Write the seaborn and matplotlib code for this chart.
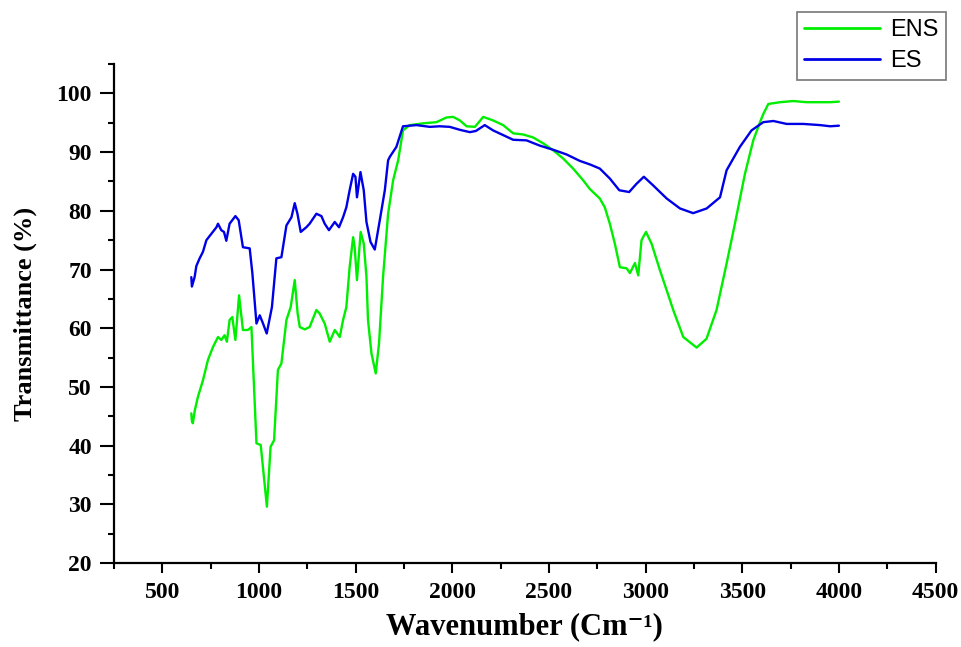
import matplotlib
matplotlib.use("Agg")
import matplotlib.pyplot as plt
from matplotlib.ticker import MultipleLocator
import seaborn as sns
import pandas as pd

# ENS spectrum (green)
ens_x = [650, 653, 658, 668, 684, 710, 736, 762, 788, 805, 822, 834, 848, 862, 878, 897, 917,
         943, 961, 987, 1009, 1041, 1060, 1078, 1098, 1116, 1142, 1164, 1185, 1200, 1211, 1237,
         1262, 1297, 1314, 1340, 1366, 1392, 1418, 1435, 1452, 1469, 1487, 1495, 1507, 1526,
         1542, 1556, 1564, 1582, 1604, 1621, 1642, 1668, 1694, 1720, 1745, 1780, 1849, 1918,
         1970, 2004, 2039, 2074, 2117, 2160, 2211, 2263, 2315, 2367, 2418, 2470, 2522, 2574,
         2625, 2677, 2712, 2763, 2789, 2815, 2841, 2867, 2902, 2919, 2945, 2962, 2979, 3002,
         3031, 3074, 3126, 3143, 3195, 3264, 3315, 3367, 3419, 3462, 3514, 3557, 3592, 3609,
         3635, 3695, 3764, 3833, 3903, 3955, 4000]
ens_y = [45.5, 44.2, 43.8, 46.0, 48.3, 51.1, 54.6, 56.8, 58.5, 58.0, 58.8, 57.7, 61.4, 61.9,
         58.0, 65.6, 59.7, 59.7, 60.2, 40.4, 40.1, 29.6, 39.8, 40.9, 52.9, 54.0, 61.4, 63.6,
         68.2, 62.5, 60.2, 59.8, 60.2, 63.1, 62.5, 60.8, 57.7, 59.7, 58.5, 61.4, 63.6, 70.4,
         75.5, 73.8, 68.2, 76.4, 74.4, 68.8, 61.4, 55.7, 52.3, 57.4, 68.8, 79.5, 85.2, 88.6,
         93.7, 94.6, 94.9, 95.1, 95.9, 96.0, 95.4, 94.4, 94.3, 96.0, 95.4, 94.6, 93.2, 93.0,
         92.5, 91.5, 90.3, 88.9, 87.2, 85.2, 83.7, 82.1, 80.6, 77.8, 74.4, 70.4, 70.2, 69.4,
         71.1, 69.0, 75.0, 76.4, 74.4, 69.9, 64.8, 63.1, 58.5, 56.7, 58.2, 63.1, 71.0, 77.8,
         86.3, 92.0, 95.1, 96.5, 98.2, 98.5, 98.7, 98.5, 98.5, 98.5, 98.6]

# ES spectrum (blue)
es_x = [650, 653, 667, 676, 693, 710, 728, 754, 780, 788, 805, 819, 831, 848, 878, 895, 917,
        952, 966, 987, 1004, 1021, 1040, 1067, 1090, 1116, 1142, 1168, 1185, 1199, 1216, 1245,
        1262, 1297, 1323, 1340, 1362, 1392, 1414, 1435, 1452, 1469, 1487, 1499, 1507, 1525,
        1542, 1556, 1577, 1599, 1625, 1651, 1668, 1677, 1711, 1745, 1815, 1884, 1935, 1987,
        2039, 2091, 2122, 2168, 2211, 2263, 2315, 2384, 2453, 2522, 2591, 2660, 2712, 2763,
        2815, 2864, 2915, 2953, 2991, 3040, 3109, 3178, 3246, 3316, 3385, 3419, 3488, 3548,
        3609, 3661, 3730, 3816, 3903, 3955, 4000]
es_y = [68.7, 67.1, 68.7, 70.6, 71.9, 73.0, 75.0, 76.1, 77.2, 77.8, 76.7, 76.4, 74.9, 77.8,
        79.1, 78.4, 73.8, 73.6, 69.3, 60.8, 62.2, 60.8, 59.1, 63.6, 71.9, 72.1, 77.5, 78.9,
        81.3, 79.5, 76.4, 77.2, 77.8, 79.5, 79.1, 77.8, 76.7, 78.1, 77.2, 78.9, 80.6, 83.5,
        86.3, 85.8, 82.3, 86.6, 83.5, 78.1, 74.7, 73.4, 78.4, 83.5, 88.6, 89.2, 90.9, 94.4,
        94.6, 94.3, 94.4, 94.3, 93.8, 93.4, 93.6, 94.6, 93.7, 92.9, 92.1, 92.0, 91.1, 90.4,
        89.6, 88.5, 87.9, 87.2, 85.5, 83.5, 83.2, 84.6, 85.8, 84.3, 82.1, 80.4, 79.6, 80.4,
        82.3, 86.9, 90.9, 93.7, 95.1, 95.3, 94.8, 94.8, 94.6, 94.4, 94.5]

df = pd.concat([
    pd.DataFrame({"Wavenumber": ens_x, "T": ens_y, "Sample": "ENS"}),
    pd.DataFrame({"Wavenumber": es_x, "T": es_y, "Sample": "ES"}),
], ignore_index=True)

sns.set_theme(style="ticks")
plt.rcParams["font.family"] = ["Liberation Serif", "DejaVu Serif"]
for k in ["text.color", "axes.labelcolor", "xtick.color", "ytick.color", "axes.edgecolor"]:
    plt.rcParams[k] = "black"

fig = plt.figure(figsize=(9.62, 6.47), dpi=100)
ax = fig.add_axes([0.1185, 0.1298, 0.854, 0.7712])

sns.lineplot(data=df, x="Wavenumber", y="T", hue="Sample",
             palette={"ENS": "#00ee00", "ES": "#0000e6"},
             sort=False, estimator=None, linewidth=1.7, ax=ax)

ax.set_xlim(250, 4500)
ax.set_ylim(20, 105)
ax.xaxis.set_major_locator(MultipleLocator(500))
ax.xaxis.set_minor_locator(MultipleLocator(250))
ax.yaxis.set_major_locator(MultipleLocator(10))
ax.yaxis.set_minor_locator(MultipleLocator(5))
ax.set_xticks(list(range(500, 4501, 500)))
ax.set_yticks(list(range(20, 101, 10)))

for s in ["top", "right"]:
    ax.spines[s].set_visible(False)
for s in ["left", "bottom"]:
    ax.spines[s].set_linewidth(1.6)
    ax.spines[s].set_color("black")

ax.tick_params(axis="y", which="major", length=10, width=1.5, direction="out", pad=6)
ax.tick_params(axis="y", which="minor", length=4.5, width=1.5, direction="out")
ax.tick_params(axis="x", which="major", length=7, width=1.5, direction="out", pad=7)
ax.tick_params(axis="x", which="minor", length=4, width=1.5, direction="out")
for lab in ax.get_xticklabels() + ax.get_yticklabels():
    lab.set_fontweight("bold")
    lab.set_fontsize(17)

ax.set_xlabel("Wavenumber (Cm\u207b\u00b9)", fontsize=22, fontweight="bold", labelpad=6)
ax.set_ylabel("Transmittance (%)", fontsize=19, fontweight="bold", labelpad=14)

leg = ax.legend(loc="upper right", bbox_to_anchor=(0.983, 0.9815),
                bbox_transform=fig.transFigure, frameon=True, fancybox=False,
                prop={"family": "Liberation Sans", "size": 17}, handlelength=3.2,
                borderpad=0.3, labelspacing=0.4, handletextpad=0.45, borderaxespad=0,
                title=None)
leg.get_frame().set_edgecolor("#555555")
leg.get_frame().set_linewidth(1.2)
for h in leg.get_lines():
    h.set_linewidth(2)

fig.savefig("out.png", dpi=100)
